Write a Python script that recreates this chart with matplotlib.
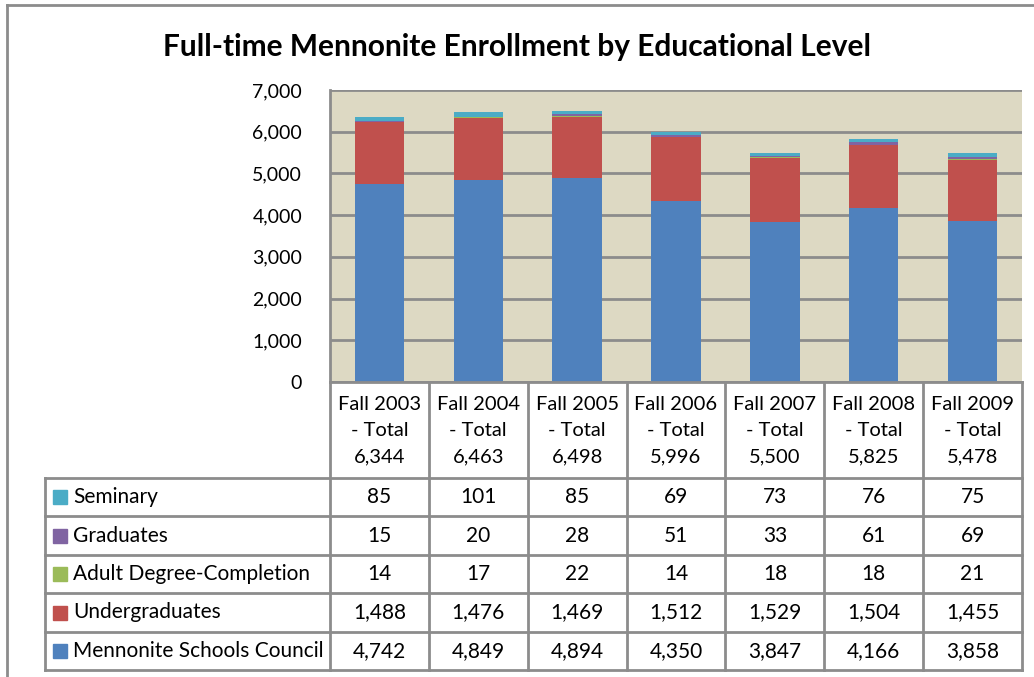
import matplotlib.pyplot as plt
import numpy as np
from matplotlib.transforms import blended_transform_factory
from matplotlib.lines import Line2D
from matplotlib.patches import Rectangle

plt.rcParams['font.family'] = ['Lato', 'DejaVu Sans']

years = ['Fall 2003', 'Fall 2004', 'Fall 2005', 'Fall 2006', 'Fall 2007', 'Fall 2008', 'Fall 2009']
schools_council = [4742, 4849, 4894, 4350, 3847, 4166, 3858]
undergraduates = [1488, 1476, 1469, 1512, 1529, 1504, 1455]
adult_degree = [14, 17, 22, 14, 18, 18, 21]
graduates = [15, 20, 28, 51, 33, 61, 69]
seminary = [85, 101, 85, 69, 73, 76, 75]

series_names = ['Mennonite Schools Council', 'Undergraduates', 'Adult Degree-Completion',
                'Graduates', 'Seminary']
series_vals = [schools_council, undergraduates, adult_degree, graduates, seminary]
colors = ['#4F81BD', '#C0504D', '#9BBB59', '#8064A2', '#4BACC6']

W, H = 1034, 677
grid_col = '#8C8C8C'


def fy(py):
    # pixel row from top -> figure fraction
    return 1 - py / H


def fx(px):
    return px / W


fig = plt.figure(figsize=(W / 100, H / 100), dpi=100)
ax = fig.add_axes([fx(330), fy(382), fx(1022 - 330), (382 - 90) / H])
ax.set_facecolor('#DDD9C3')

x = np.arange(len(years))
bottom = np.zeros(len(years))
for vals, col in zip(series_vals, colors):
    ax.bar(x, vals, 0.5, bottom=bottom, color=col, edgecolor='none', zorder=3)
    bottom += np.array(vals)
totals = bottom

ax.set_xlim(-0.5, len(years) - 0.5)
ax.set_ylim(0, 7000)
ax.set_yticks(range(0, 7001, 1000))
ax.set_yticklabels(['{:,}'.format(v) for v in range(0, 7001, 1000)], fontsize=14)
ax.set_xticks([])
ax.tick_params(axis='y', length=0, pad=20)
ax.yaxis.grid(True, color=grid_col, linewidth=2, zorder=1)
for s in ['top', 'right', 'bottom']:
    ax.spines[s].set_visible(False)
ax.spines['left'].set_color(grid_col)
ax.spines['left'].set_linewidth(2)

fig.text(0.5, fy(47), 'Full-time Mennonite Enrollment by Educational Level',
         ha='center', va='center', fontsize=21.5, fontweight='bold')

# outer chart border
fig.add_artist(Line2D([fx(7), 1], [fy(5), fy(5)], color=grid_col, lw=2))
fig.add_artist(Line2D([fx(7), fx(7)], [fy(5), 0], color=grid_col, lw=2))

# data table
tr = blended_transform_factory(ax.transData, fig.transFigure)
row_tops = [382, 478, 516, 555, 593, 632, 670]
lc = '#8C8C8C'
for i in range(len(years) + 1):
    fig.add_artist(Line2D([i - 0.5, i - 0.5], [fy(382), fy(670)], transform=tr,
                          color=lc, lw=2))
for yy in row_tops:
    x0 = fx(45) if yy >= 478 else fx(330)
    fig.add_artist(Line2D([x0, fx(1022)], [fy(yy), fy(yy)], color=lc, lw=2))
fig.add_artist(Line2D([fx(45), fx(45)], [fy(478), fy(670)], color=lc, lw=2))

for i, yr in enumerate(years):
    fig.text(i, fy(431), '{}\n- Total\n{:,}'.format(yr, int(totals[i])), transform=tr,
             ha='center', va='center', fontsize=14.5, linespacing=1.65)

table_rows = list(zip(series_names, series_vals, colors))[::-1]
for r, (name, vals, col) in enumerate(table_rows):
    yc = (row_tops[r + 1] + row_tops[r + 2]) / 2
    fig.add_artist(Rectangle((fx(53), fy(yc + 7)), fx(14), 14 / H, color=col))
    fig.text(fx(73), fy(yc), name, ha='left', va='center', fontsize=15)
    for i, v in enumerate(vals):
        fig.text(i, fy(yc), '{:,}'.format(v), transform=tr, ha='center', va='center',
                 fontsize=15)

fig.savefig('out.png', dpi=100)
